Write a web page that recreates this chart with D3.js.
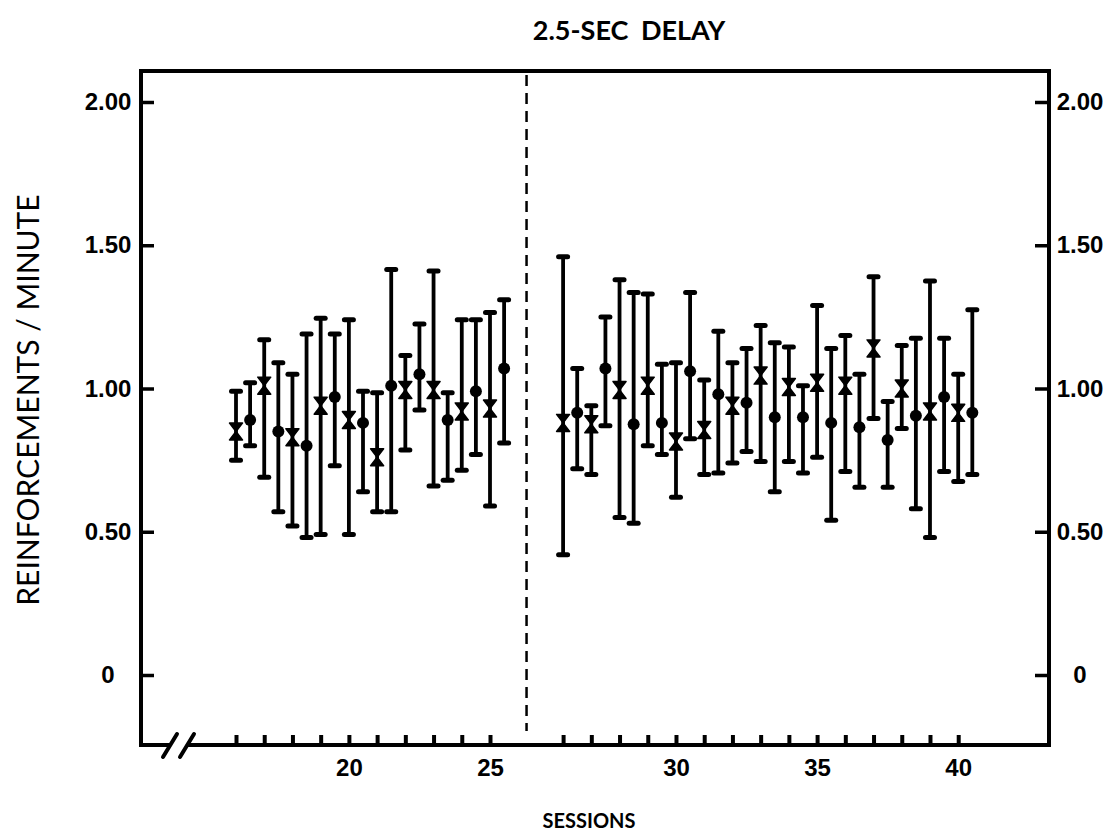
<!DOCTYPE html>
<html>
<head>
<meta charset="utf-8">
<script src="https://cdn.jsdelivr.net/npm/d3@7"></script>
<style>
  body { margin: 0; background: #fff; }
</style>
</head>
<body>
<div id="app"></div>
<script>
// Crosses sit on whole sessions, dots half a session later
const crossSessions = [16, 17, 18, 19, 20, 21, 22, 23, 24, 25, 26, 27, 28, 29, 30, 31, 32, 33, 34, 35, 36, 37, 38, 39, 40];
const crossMean = [0.85, 1.01, 0.83, 0.94, 0.89, 0.76, 0.995, 0.995, 0.92, 0.93, 0.88, 0.875, 0.995, 1.01, 0.815, 0.855, 0.94, 1.045, 1.005, 1.02, 1.01, 1.14, 1.00, 0.92, 0.915];
const crossHigh = [0.99, 1.17, 1.05, 1.245, 1.24, 0.985, 1.115, 1.41, 1.24, 1.265, 1.46, 0.94, 1.38, 1.33, 1.09, 1.03, 1.09, 1.22, 1.145, 1.29, 1.185, 1.39, 1.15, 1.375, 1.05];
const crossLow = [0.75, 0.69, 0.52, 0.49, 0.49, 0.57, 0.785, 0.66, 0.715, 0.59, 0.42, 0.70, 0.55, 0.80, 0.62, 0.70, 0.74, 0.745, 0.745, 0.76, 0.71, 0.895, 0.86, 0.48, 0.675];

const dotSessions = [16.5, 17.5, 18.5, 19.5, 20.5, 21.5, 22.5, 23.5, 24.5, 25.5, 26.5, 27.5, 28.5, 29.5, 30.5, 31.5, 32.5, 33.5, 34.5, 35.5, 36.5, 37.5, 38.5, 39.5, 40.5];
const dotMean = [0.89, 0.85, 0.80, 0.97, 0.88, 1.01, 1.05, 0.89, 0.99, 1.07, 0.915, 1.07, 0.875, 0.88, 1.06, 0.98, 0.95, 0.90, 0.90, 0.88, 0.865, 0.82, 0.905, 0.97, 0.915];
const dotHigh = [1.02, 1.09, 1.19, 1.19, 0.99, 1.415, 1.225, 0.985, 1.24, 1.31, 1.07, 1.25, 1.335, 1.085, 1.335, 1.20, 1.14, 1.16, 1.01, 1.14, 1.05, 0.955, 1.175, 1.175, 1.275];
const dotLow = [0.80, 0.57, 0.48, 0.73, 0.64, 0.57, 0.925, 0.68, 0.77, 0.81, 0.72, 0.87, 0.53, 0.77, 0.825, 0.705, 0.78, 0.64, 0.705, 0.54, 0.655, 0.655, 0.58, 0.71, 0.70];

const yTicks = [0, 0.5, 1, 1.5, 2];
const yTickLabels = ['0', '0.50', '1.00', '1.50', '2.00'];
const xTickSessions = [16, 17, 18, 19, 20, 21, 22, 23, 24, 25, 26, 27, 28, 29, 30, 31, 32, 33, 34, 35, 36, 37, 38, 39, 40];
const xTickLabels = [20, 25, 30, 35, 40];
const lastSessionBefore = 25; // dashed line after this session

const width = 1120, height = 834;
const frame = { left: 141, right: 1049, top: 71, bottom: 745 };

// the axis leaves an extra space at the dashed line
const gap = 1.59;
const pos = s => (s > lastSessionBefore + 0.5 ? s + gap : s);

const x = d3.scaleLinear().domain([16, 25]).range([236, 490]);
const y = d3.scaleLinear().domain([0, 2]).range([675, 102]);

const svg = d3.select('#app').append('svg')
    .attr('width', width)
    .attr('height', height)
    .style('font-family', 'Lato, sans-serif');

// frame
svg.append('path')
    .attr('d', `M${frame.left},${frame.bottom} V${frame.top} H${frame.right} V${frame.bottom}`)
    .attr('fill', 'none')
    .attr('stroke', '#000')
    .attr('stroke-width', 4)
    .attr('stroke-linejoin', 'miter');

svg.append('line')
    .attr('x1', frame.left - 2).attr('x2', 170)
    .attr('y1', frame.bottom).attr('y2', frame.bottom)
    .attr('stroke', '#000').attr('stroke-width', 4);
svg.append('line')
    .attr('x1', 187).attr('x2', frame.right + 2)
    .attr('y1', frame.bottom).attr('y2', frame.bottom)
    .attr('stroke', '#000').attr('stroke-width', 4);

// axis break marks
[163, 180].forEach(bx => {
    svg.append('line')
        .attr('x1', bx).attr('y1', 757)
        .attr('x2', bx + 14).attr('y2', 734)
        .attr('stroke', '#000')
        .attr('stroke-width', 4)
        .attr('stroke-linecap', 'round');
});

// y axes, left and right
const leftAxis = svg.append('g')
    .attr('transform', `translate(${frame.left},0)`)
    .call(d3.axisLeft(y).tickValues(yTicks).tickSize(-13)
        .tickFormat((d, i) => yTickLabels[i]));
const rightAxis = svg.append('g')
    .attr('transform', `translate(${frame.right},0)`)
    .call(d3.axisRight(y).tickValues(yTicks).tickSize(-14)
        .tickFormat((d, i) => yTickLabels[i]));

[[leftAxis, -33], [rightAxis, 31]].forEach(([g, dx]) => {
    g.select('.domain').remove();
    g.selectAll('line').attr('stroke', '#000').attr('stroke-width', 3.5);
    g.selectAll('text')
        .attr('x', dx)
        .attr('text-anchor', 'middle')
        .attr('fill', '#000')
        .style('font-size', '24px')
        .style('font-weight', 'bold');
});

// x axis ticks (placed through pos so they jump over the break)
const xAxis = svg.append('g')
    .attr('transform', `translate(0,${frame.bottom})`)
    .call(d3.axisBottom(x)
        .tickValues(xTickSessions.map(pos))
        .tickSize(-10)
        .tickPadding(14)
        .tickFormat((d, i) => xTickLabels.includes(xTickSessions[i]) ? xTickSessions[i] : ''));
xAxis.select('.domain').remove();
xAxis.selectAll('line').attr('stroke', '#000').attr('stroke-width', 4);
xAxis.selectAll('text')
    .attr('fill', '#000')
    .style('font-size', '24px')
    .style('font-weight', 'bold');

// dashed phase line
const dashX = (x(pos(lastSessionBefore)) + x(pos(lastSessionBefore + 1))) / 2;
svg.append('line')
    .attr('x1', dashX).attr('x2', dashX)
    .attr('y1', frame.top + 4).attr('y2', frame.bottom - 14)
    .attr('stroke', '#000')
    .attr('stroke-width', 2.5)
    .attr('stroke-dasharray', '11,7');

// build records from the arrays
const crosses = crossSessions.map((s, i) => ({ s, mean: crossMean[i], high: crossHigh[i], low: crossLow[i] }));
const dots = dotSessions.map((s, i) => ({ s, mean: dotMean[i], high: dotHigh[i], low: dotLow[i] }));
const all = crosses.concat(dots);

const bars = svg.append('g').selectAll('g')
    .data(all)
    .enter().append('g')
    .attr('transform', d => `translate(${x(pos(d.s))},0)`);

bars.append('line')
    .attr('y1', d => y(d.high))
    .attr('y2', d => y(d.low))
    .attr('stroke', '#000')
    .attr('stroke-width', 3.8);

['high', 'low'].forEach(k => {
    bars.append('line')
        .attr('x1', -4.5).attr('x2', 4.5)
        .attr('y1', d => y(d[k]))
        .attr('y2', d => y(d[k]))
        .attr('stroke', '#000')
        .attr('stroke-width', 5)
        .attr('stroke-linecap', 'round');
});

// markers
svg.append('g').selectAll('circle')
    .data(dots)
    .enter().append('circle')
    .attr('cx', d => x(pos(d.s)))
    .attr('cy', d => y(d.mean))
    .attr('r', 6)
    .attr('fill', '#000');

svg.append('g').selectAll('path')
    .data(crosses)
    .enter().append('path')
    .attr('transform', d => `translate(${x(pos(d.s))},${y(d.mean)})`)
    .attr('d', 'M-6.5,-8.5 L6.5,-8.5 L0,0 Z M-6.5,8.5 L6.5,8.5 L0,0 Z')
    .attr('fill', '#000')
    .attr('stroke', '#000')
    .attr('stroke-width', 1.5)
    .attr('stroke-linejoin', 'round');

// titles
svg.append('text')
    .attr('x', 629).attr('y', 40)
    .attr('text-anchor', 'middle')
    .style('font-size', '27px')
    .style('font-weight', 'bold')
    .style('word-spacing', '6px')
    .text('2.5-SEC DELAY');

svg.append('text')
    .attr('x', 589).attr('y', 828)
    .attr('text-anchor', 'middle')
    .style('font-size', '20px')
    .style('font-weight', 'bold')
    .text('SESSIONS');

svg.append('text')
    .attr('transform', 'translate(39,400) rotate(-90)')
    .attr('text-anchor', 'middle')
    .style('font-size', '30px')
    .text('REINFORCEMENTS / MINUTE');
</script>
</body>
</html>
